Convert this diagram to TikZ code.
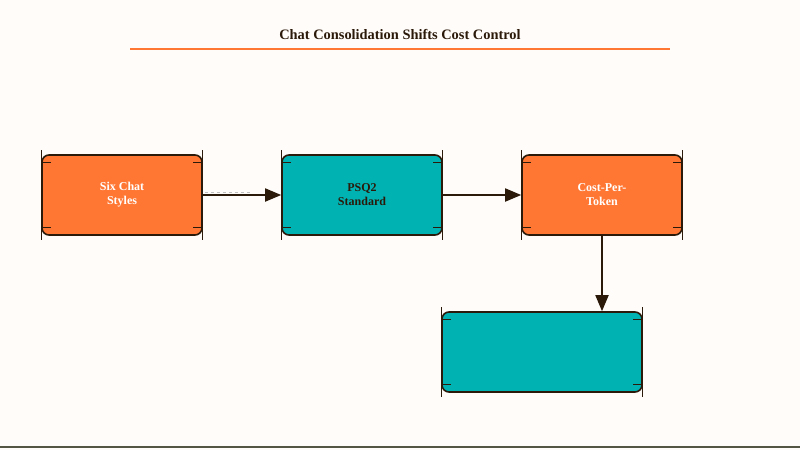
\documentclass[tikz,border=0pt]{standalone}
\usepackage{fontspec}
\setmainfont{Liberation Serif}
\usetikzlibrary{positioning,calc,arrows.meta}
\definecolor{bgcol}{HTML}{FFFCFA}
\definecolor{orangebox}{HTML}{FF7733}
\definecolor{tealbox}{HTML}{00B2B2}
\definecolor{inkcol}{HTML}{2B1A0A}
\definecolor{rulecol}{HTML}{555544}
\begin{document}
\begin{tikzpicture}[x=1pt,y=-1pt,
         stagebox/.style = {draw=inkcol, line width=1.6pt, rounded corners=7pt,
         minimum width=160pt, minimum height=80pt, align=center,
         font=\bfseries\large},
         hotbox/.style = {stagebox, fill=orangebox, text=white},
         coolbox/.style = {stagebox, fill=tealbox, text=inkcol},
         flow/.style = {draw=inkcol, line width=1.8pt,
         -{Triangle[length=16pt,width=13pt]}}
]
      \fill[bgcol] (0,0) rectangle (800,450);
      \useasboundingbox (0,0) rectangle (800,450);

      % title
      \node[font=\bfseries\Large, text=inkcol] (title) at (400,34)
         {Chat Consolidation Shifts Cost Control};
      \draw[orangebox, line width=1.5pt] (130,49) -- (670,49);

      % stages
      \node[hotbox]  (six)  at (122,195) {Six Chat\\Styles};
      \node[coolbox] (psq)  at (362,195) {PSQ2\\Standard};
      \node[hotbox]  (cost) at (602,195) {Cost-Per-\\Token};
      \node[coolbox, minimum width=200pt] (tail) at (542,352) {};

      % corner ticks
      \foreach \n in {six,psq,cost,tail}{
         \draw[inkcol, line width=1.2pt]
            ($(\n.north west)+(0,-4)$) -- ($(\n.south west)+(0,4)$)
            ($(\n.north east)+(0,-4)$) -- ($(\n.south east)+(0,4)$)
            ($(\n.north west)+(0,8)$) -- ++(10,0)
            ($(\n.south west)+(0,-8)$) -- ++(10,0)
            ($(\n.north east)+(0,8)$) -- ++(-10,0)
            ($(\n.south east)+(0,-8)$) -- ++(-10,0);
      }

      % connectors
      \draw[gray!50, dashed, line width=0.6pt] ($(six.east)+(2,-3)$) -- ($(psq.west)+(-30,-3)$);
      \draw[flow] (six)  -- (psq);
      \draw[flow] (psq)  -- (cost);
      \draw[flow] (cost.south) -- (cost.south |- tail.north);

      % bottom rule
      \draw[rulecol, line width=1.5pt] (0,447) -- (800,447);
\end{tikzpicture}
\end{document}
